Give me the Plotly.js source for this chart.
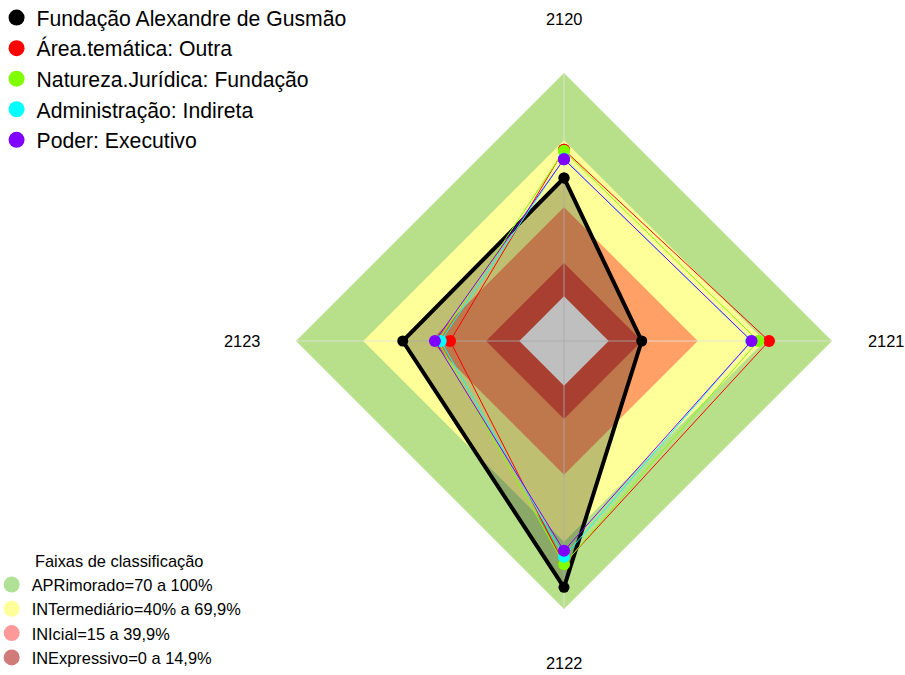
<!DOCTYPE html>
<html>
<head>
<meta charset="utf-8">
<script src="https://cdn.plot.ly/plotly-3.0.1.min.js"></script>
<style>html,body{margin:0;padding:0;background:#fff;}#chart{width:905px;height:675px;}</style>
</head>
<body>
<div id="chart"></div>
<script>
// ---- data ----
var categories = ['2120', '2121', '2122', '2123'];
var seriesNames = ['Fundação Alexandre de Gusmão', 'Área.temática: Outra', 'Natureza.Jurídica: Fundação', 'Administração: Indireta', 'Poder: Executivo'];
var fundacao = [53.0, 14.8, 90.3, 52.2];
var areaTematica = [65.6, 71.8, 79.8, 31.0];
var naturezaJuridica = [65.1, 67.0, 80.0, 36.5];
var administracao = [61.6, 63.8, 76.6, 35.2];
var poder = [61.4, 64.0, 73.9, 37.8];
var seriesColors = ['#000000', '#FF0000', '#80FF00', '#00FFFF', '#8000FF'];

var bandNames = ['APRimorado=70 a 100%', 'INTermediário=40% a 69,9%', 'INIcial=15 a 39,9%', 'INExpressivo=0 a 14,9%'];
var bandUpper = [100, 69.9, 39.9, 14.9];
var bandColors = ['#B8E08B', '#FFFF99', '#FFA066', '#E05540'];
var bandLegendColors = ['rgba(124,205,82,0.6)', 'rgba(255,255,0,0.4)', 'rgba(255,0,0,0.4)', 'rgba(178,34,34,0.6)'];

// ---- geometry ----
var W = 905, H = 675;
var CX = 564, CY = 341, R = 268;
var RMIN = -20, RMAX = 100;
var FONT = 'Arial, "Liberation Sans", sans-serif';

function closed(arr) { return arr.concat([arr[0]]); }

var traces = [];
// bands
bandUpper.forEach(function (u, i) {
  traces.push({
    type: 'scatterpolar', mode: 'lines',
    r: closed(categories.map(function () { return u; })),
    theta: closed(categories),
    fill: 'toself', fillcolor: bandColors[i],
    line: {width: 0, color: bandColors[i]},
    showlegend: false, hoverinfo: 'skip'
  });
});
// center (white)
traces.push({
  type: 'scatterpolar', mode: 'lines',
  r: closed(categories.map(function () { return 0; })),
  theta: closed(categories),
  fill: 'toself', fillcolor: '#FFFFFF',
  line: {width: 0, color: '#FFFFFF'},
  showlegend: false, hoverinfo: 'skip'
});
// spokes
categories.forEach(function (c) {
  traces.push({
    type: 'scatterpolar', mode: 'lines',
    r: [RMIN, RMAX], theta: [c, c],
    line: {width: 1.5, color: 'rgba(225,225,225,0.55)'},
    showlegend: false, hoverinfo: 'skip'
  });
});

var seriesData = [fundacao, areaTematica, naturezaJuridica, administracao, poder];
seriesData.forEach(function (vals, i) {
  var isMain = i === 0;
  traces.push({
    type: 'scatterpolar', mode: 'lines+markers',
    name: seriesNames[i],
    r: closed(vals), theta: closed(categories),
    fill: isMain ? 'toself' : 'none',
    fillcolor: isMain ? 'rgba(0,0,0,0.25)' : undefined,
    line: {width: isMain ? 4 : 1, color: seriesColors[i]},
    marker: {size: isMain ? 11 : 12, color: seriesColors[i]},
    showlegend: false
  });
});

// legend entries (series)
seriesNames.forEach(function (n, i) {
  traces.push({
    type: 'scatterpolar', mode: 'markers', name: n,
    r: [null], theta: [null],
    marker: {size: 16, color: seriesColors[i]},
    legend: 'legend', showlegend: true
  });
});
// legend entries (bands)
bandNames.forEach(function (n, i) {
  traces.push({
    type: 'scatterpolar', mode: 'markers', name: n,
    r: [null], theta: [null],
    marker: {size: 16, color: bandLegendColors[i]},
    legend: 'legend2', showlegend: true
  });
});

// axis labels at 1.2 R
var labelR = 1.2 * R;
var annotations = categories.map(function (c, i) {
  var ang = Math.PI / 2 - i * 2 * Math.PI / categories.length;
  var px = CX + labelR * Math.cos(ang);
  var py = CY - labelR * Math.sin(ang);
  return {
    xref: 'paper', yref: 'paper', x: px / W, y: 1 - py / H,
    xanchor: 'center', yanchor: 'middle', showarrow: false,
    text: c, font: {family: FONT, size: 16.4, color: '#000'}
  };
});

var layout = {
  width: W, height: H,
  margin: {l: 0, r: 0, t: 0, b: 0, autoexpand: false},
  paper_bgcolor: '#fff',
  showlegend: true,
  polar: {
    domain: {x: [(CX - R) / W, (CX + R) / W], y: [1 - (CY + R) / H, 1 - (CY - R) / H]},
    bgcolor: 'rgba(0,0,0,0)',
    radialaxis: {range: [RMIN, RMAX], visible: false},
    angularaxis: {type: 'category', categoryarray: categories, categoryorder: 'array',
      rotation: 90, direction: 'clockwise', visible: false}
  },
  legend: {
    x: -0.0038, y: 1.004, xanchor: 'left', yanchor: 'top',
    font: {family: FONT, size: 21.2, color: '#000'},
    bgcolor: 'rgba(0,0,0,0)', itemclick: false
  },
  legend2: {
    x: -0.0092, y: 0, xanchor: 'left', yanchor: 'bottom',
    font: {family: FONT, size: 16.4, color: '#000'},
    title: {text: 'Faixas de classificação', side: 'top center', font: {family: FONT, size: 16.4, color: '#000'}},
    bgcolor: 'rgba(0,0,0,0)', itemclick: false
  },
  annotations: annotations
};

Plotly.newPlot('chart', traces, layout, {displayModeBar: false, staticPlot: true});
</script>
</body>
</html>
